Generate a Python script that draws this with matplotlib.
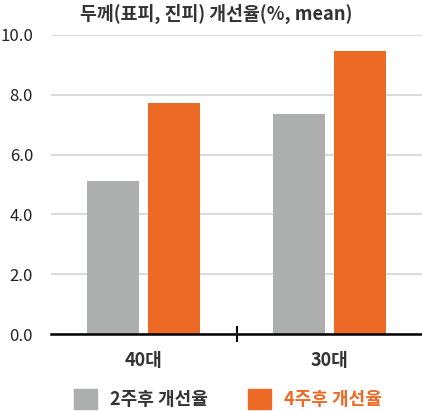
import numpy as np
import matplotlib.pyplot as plt
from matplotlib.patches import Patch

plt.rcParams['font.family'] = ['Noto Sans CJK KR', 'DejaVu Sans']

categories = ['40대', '30대']
week2 = [5.12, 7.36]
week4 = [7.73, 9.47]
series_names = ['2주후 개선율', '4주후 개선율']
yticks = [0, 2, 4, 6, 8, 10]

gray = '#adafae'
orange = '#ec6a25'
dark = '#333333'

fig = plt.figure(figsize=(4.22, 4.11), dpi=100)
ax = fig.add_axes([0.121, 0.187, 0.879, 0.728])

x = np.arange(len(categories))
w = 0.28
ax.bar(x - 0.165, week2, w, color=gray, zorder=3)
ax.bar(x + 0.165, week4, w, color=orange, zorder=3)

ax.set_xlim(-0.5, 1.5)
ax.set_ylim(0, 10)
ax.set_yticks(yticks)
ax.set_yticklabels(['%.1f' % v for v in yticks], fontsize=12, color='#222222')
ax.tick_params(axis='y', length=0, pad=13)
ax.yaxis.grid(True, color='#d4d4d4', linewidth=1.2, zorder=0)

# category labels at bar groups, single divider tick between them
ax.set_xticks([0.5])
ax.set_xticklabels([''])
ax.tick_params(axis='x', direction='inout', length=11, width=1.5, color='black')
for xi, c in zip(x, categories):
    ax.text(xi, -0.55, c, ha='center', va='top', fontsize=13, fontweight='bold',
            color=dark, transform=ax.transData)

for s in ['top', 'right', 'left']:
    ax.spines[s].set_visible(False)
ax.spines['bottom'].set_linewidth(1.8)
ax.spines['bottom'].set_zorder(4)

fig.text(0.513, 0.965, '두께(표피, 진피) 개선율(%, mean)', ha='center', va='center',
         fontsize=13.2, fontweight='bold', color=dark)

handles = [Patch(color=gray), Patch(color=orange)]
fig.legend(handles, series_names, loc='center', bbox_to_anchor=(0.54, 0.029),
           ncol=2, frameon=False, handlelength=1.27, handleheight=1.27,
           columnspacing=2.2, handletextpad=0.75, labelcolor=[dark, orange],
           prop={'size': 13, 'weight': 'bold'})

fig.savefig('out.png', dpi=100)
